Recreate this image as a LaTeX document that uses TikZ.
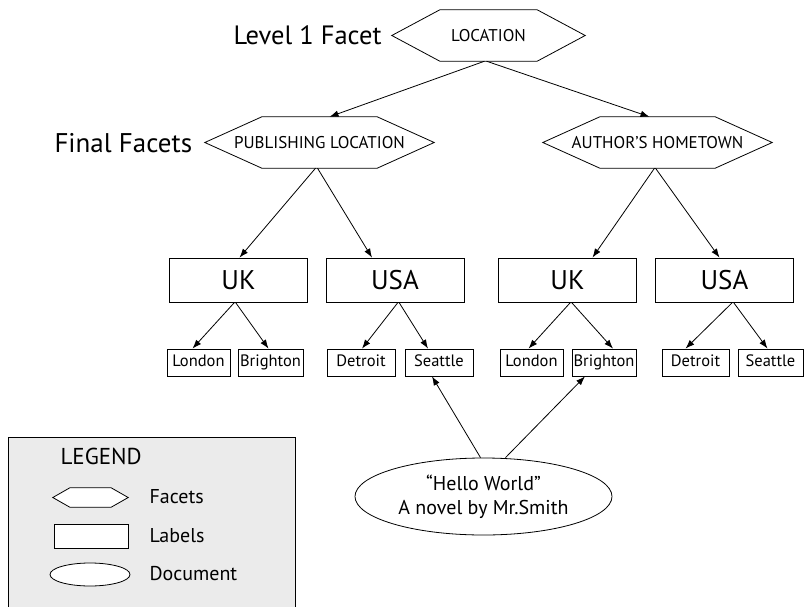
\documentclass[tikz,border=0pt]{standalone}
\usepackage{fontspec}
\setmainfont{PT Sans}
\usetikzlibrary{arrows.meta,shapes.geometric}
\tikzset{
  conn/.style={draw, line width=0.8pt, -{Latex[length=9pt,width=6.5pt]}},
  facet/.style={draw=none, minimum height=51pt, inner sep=0pt, font=\fontsize{17}{19}\selectfont},
  biglabel/.style={draw, line width=0.8pt, minimum width=138pt, minimum height=44pt, inner sep=0pt, font=\fontsize{27}{30}\selectfont},
  smalllabel/.style={draw, line width=0.8pt, minimum height=27pt, inner sep=0pt, text height=11.5pt, text depth=3pt, font=\fontsize{16.5}{18}\selectfont},
  doc/.style={draw, ellipse, line width=0.8pt, minimum width=257pt, minimum height=77pt, inner sep=0pt, align=center, font=\fontsize{20}{24}\selectfont},
  heading/.style={font=\fontsize{26.5}{30}\selectfont, anchor=west},
  legtext/.style={font=\fontsize{20}{23}\selectfont, anchor=west}
}
\newcommand\hexdraw[3][]{\draw[line width=0.8pt,#1] (#2.west) -- ([xshift=#3]#2.north west) -- ([xshift=-#3]#2.north east) -- (#2.east) -- ([xshift=-#3]#2.south east) -- ([xshift=#3]#2.south west) -- cycle;}
\begin{document}
\begin{tikzpicture}[x=1pt,y=-1pt]
\useasboundingbox (0,0) rectangle (805,607);
% legend box
\draw[line width=0.8pt, fill=black!8] (8,437) rectangle (295,625);
\node[legtext, font=\fontsize{23}{26}\selectfont] (legtitle) at (57,456) {LEGEND};
\node[draw=none, minimum width=75pt, minimum height=19pt, inner sep=0pt] (leghex) at (90.5,497.5) {};
\hexdraw[fill=white]{leghex}{17pt}
\node[draw, line width=0.8pt, fill=white, minimum width=74pt, minimum height=24pt, inner sep=0pt] (legbox) at (91,536) {};
\node[draw, ellipse, line width=0.8pt, fill=white, minimum width=80pt, minimum height=23pt, inner sep=0pt] (legell) at (90,574.5) {};
\node[legtext] (legf) at (146,497) {Facets};
\node[legtext] (legl) at (146,536) {Labels};
\node[legtext] (legd) at (146,574) {Document};

% headings
\node[heading] (lvl) at (230,35) {Level 1 Facet};
\node[heading, font=\fontsize{27}{30}\selectfont] (fin) at (51,143) {Final Facets};

% facets
\node[facet, minimum width=193pt] (loc) at (488.5,35.5) {LOCATION};
\hexdraw{loc}{48pt}
\node[facet, minimum width=229pt] (pub) at (319.5,142.5) {PUBLISHING LOCATION};
\hexdraw{pub}{57pt}
\node[facet, minimum width=229pt] (aut) at (657.5,142.5) {AUTHOR'S HOMETOWN};
\hexdraw{aut}{57pt}

% big labels
\node[biglabel] (uk1) at (238.5,280) {UK};
\node[biglabel] (usa1) at (395,280) {USA};
\node[biglabel] (uk2) at (567.5,280) {UK};
\node[biglabel] (usa2) at (724.5,280) {USA};

% small labels
\node[smalllabel, minimum width=63pt] (lon1) at (198.5,362.5) {London};
\node[smalllabel, minimum width=65pt] (bri1) at (270.5,362.5) {Brighton};
\node[smalllabel, minimum width=68pt] (det1) at (361,362.5) {Detroit};
\node[smalllabel, minimum width=68pt] (sea1) at (439,362.5) {Seattle};
\node[smalllabel, minimum width=63pt] (lon2) at (531.5,362.5) {London};
\node[smalllabel, minimum width=64pt] (bri2) at (604,362.5) {Brighton};
\node[smalllabel, minimum width=67pt] (det2) at (695.5,362.5) {Detroit};
\node[smalllabel, minimum width=65pt] (sea2) at (770.5,362.5) {Seattle};

% document
\node[doc] (novel) at (483.5,496.5) {\textquotedblleft Hello World\textquotedblright\\A novel by Mr.Smith};

% connectors
\draw[conn] ([xshift=-4pt]loc.south) -- ([xshift=10pt]pub.north);
\draw[conn] ([xshift=-2pt]loc.south) -- ([xshift=-8pt]aut.north);
\draw[conn] ([xshift=-4pt]pub.south) -- ([xshift=1pt]uk1.north);
\draw[conn] ([xshift=-2pt]pub.south) -- ([xshift=-23pt]usa1.north);
\draw[conn] ([xshift=-3pt]aut.south) -- ([xshift=25pt]uk2.north);
\draw[conn] ([xshift=-2pt]aut.south) -- ([xshift=-5pt]usa2.north);
\draw[conn] ([xshift=-4pt]uk1.south) -- ([xshift=-6pt]lon1.north);
\draw[conn] ([xshift=-3pt]uk1.south) -- ([xshift=-2pt]bri1.north);
\draw[conn] ([xshift=3pt]usa1.south) -- ([xshift=1pt]det1.north);
\draw[conn] ([xshift=4pt]usa1.south) -- ([xshift=-11pt]sea1.north);
\draw[conn] ([xshift=3pt]uk2.south) -- ([xshift=-3pt]lon2.north);
\draw[conn] ([xshift=4pt]uk2.south) -- ([xshift=9pt]bri2.north);
\draw[conn] ([xshift=8pt]usa2.south) -- ([xshift=-10pt]det2.north);
\draw[conn] ([xshift=9pt]usa2.south) -- ([xshift=-3pt]sea2.north);
\draw[conn] ([xshift=-3pt]novel.north) -- ([xshift=-7pt]sea1.south);
\draw[conn] ([xshift=22pt]novel.north) -- ([xshift=-19pt]bri2.south);
\end{tikzpicture}
\end{document}
